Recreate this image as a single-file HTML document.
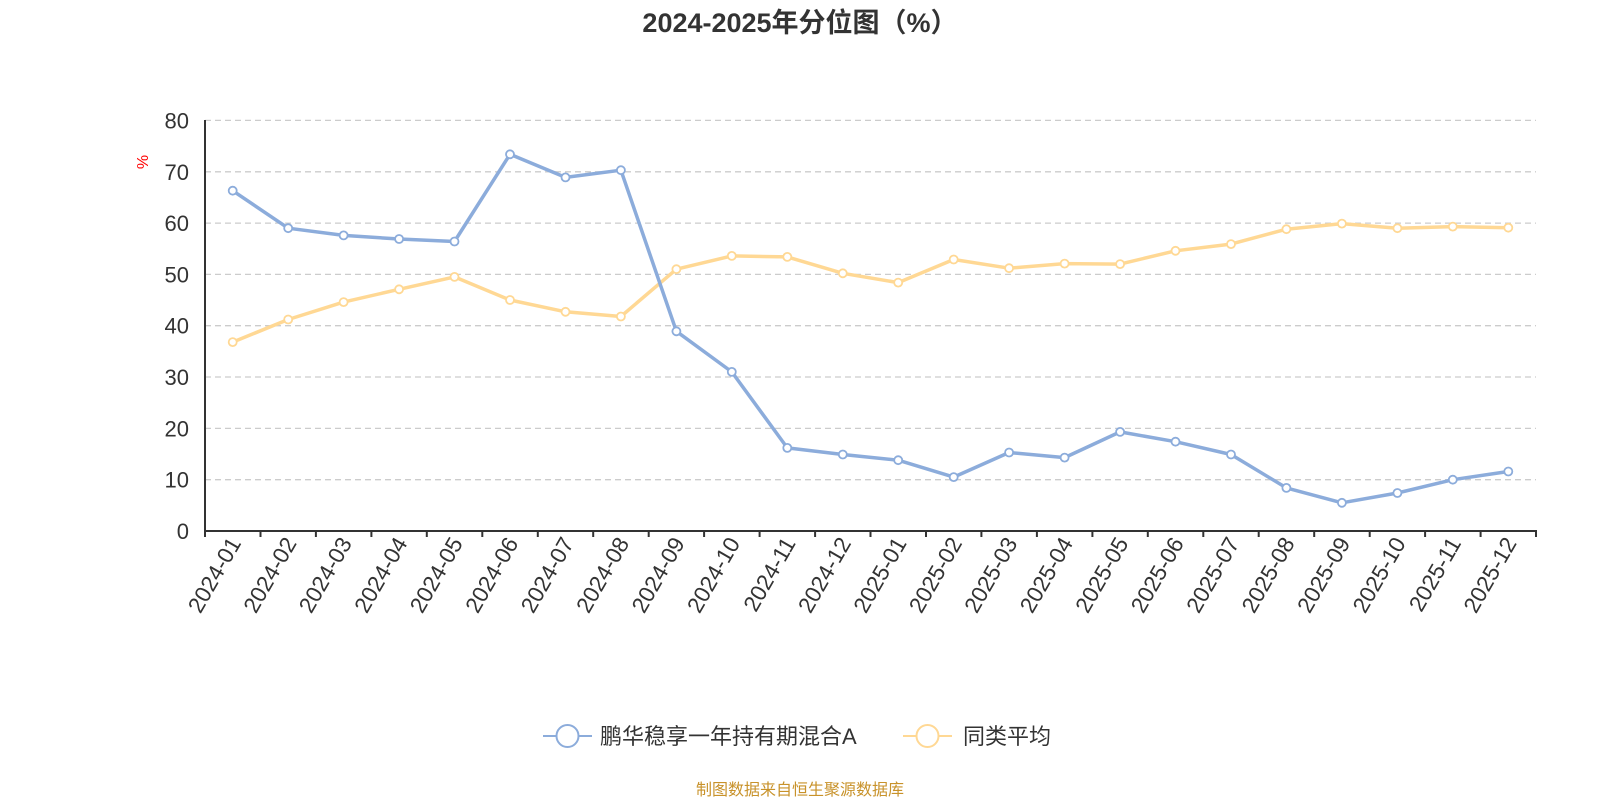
<!DOCTYPE html>
<html><head><meta charset="utf-8"><style>
html,body{margin:0;padding:0;background:#fff;}
svg{display:block;font-family:"Liberation Sans","Noto Sans CJK SC",sans-serif;}
</style></head><body>
<svg width="1600" height="800" viewBox="0 0 1600 800" xmlns="http://www.w3.org/2000/svg">
<text x="800" y="32" text-anchor="middle" font-size="27" font-weight="bold" fill="#333">2024-2025年分位图（%）</text>
<g stroke="#ccc" stroke-width="1.3" stroke-dasharray="6,4">
<line x1="205" x2="1536" y1="479.7" y2="479.7"/><line x1="205" x2="1536" y1="428.4" y2="428.4"/>
<line x1="205" x2="1536" y1="377" y2="377"/><line x1="205" x2="1536" y1="325.7" y2="325.7"/>
<line x1="205" x2="1536" y1="274.4" y2="274.4"/><line x1="205" x2="1536" y1="223.1" y2="223.1"/>
<line x1="205" x2="1536" y1="171.8" y2="171.8"/><line x1="205" x2="1536" y1="120.4" y2="120.4"/>
</g>
<g font-size="22" fill="#333" text-anchor="end">
<text x="189" y="539">0</text><text x="189" y="487.7">10</text><text x="189" y="436.4">20</text>
<text x="189" y="385">30</text><text x="189" y="333.7">40</text><text x="189" y="282.4">50</text>
<text x="189" y="231.1">60</text><text x="189" y="179.8">70</text><text x="189" y="128.4">80</text>
</g>
<text x="0" y="0" transform="translate(148,162) rotate(-90)" text-anchor="middle" font-size="16" fill="red">%</text>
<line x1="205" y1="120" x2="205" y2="531" stroke="#333" stroke-width="2"/>
<line x1="205" y1="531" x2="1537" y2="531" stroke="#333" stroke-width="2"/>
<g stroke="#333" stroke-width="2">
<line x1="205" x2="205" y1="531" y2="537"/><line x1="260.5" x2="260.5" y1="531" y2="537"/><line x1="315.9" x2="315.9" y1="531" y2="537"/><line x1="371.4" x2="371.4" y1="531" y2="537"/><line x1="426.8" x2="426.8" y1="531" y2="537"/><line x1="482.3" x2="482.3" y1="531" y2="537"/><line x1="537.8" x2="537.8" y1="531" y2="537"/><line x1="593.2" x2="593.2" y1="531" y2="537"/><line x1="648.7" x2="648.7" y1="531" y2="537"/><line x1="704.1" x2="704.1" y1="531" y2="537"/><line x1="759.6" x2="759.6" y1="531" y2="537"/><line x1="815.1" x2="815.1" y1="531" y2="537"/><line x1="870.5" x2="870.5" y1="531" y2="537"/><line x1="926" x2="926" y1="531" y2="537"/><line x1="981.4" x2="981.4" y1="531" y2="537"/><line x1="1036.9" x2="1036.9" y1="531" y2="537"/><line x1="1092.4" x2="1092.4" y1="531" y2="537"/><line x1="1147.8" x2="1147.8" y1="531" y2="537"/><line x1="1203.3" x2="1203.3" y1="531" y2="537"/><line x1="1258.7" x2="1258.7" y1="531" y2="537"/><line x1="1314.2" x2="1314.2" y1="531" y2="537"/><line x1="1369.7" x2="1369.7" y1="531" y2="537"/><line x1="1425.1" x2="1425.1" y1="531" y2="537"/><line x1="1480.6" x2="1480.6" y1="531" y2="537"/><line x1="1536" x2="1536" y1="531" y2="537"/>
</g>
<g font-size="22.5" fill="#333" text-anchor="end">
<text transform="translate(241.7,543) rotate(-60)">2024-01</text>
<text transform="translate(297.2,543) rotate(-60)">2024-02</text>
<text transform="translate(352.6,543) rotate(-60)">2024-03</text>
<text transform="translate(408.1,543) rotate(-60)">2024-04</text>
<text transform="translate(463.5,543) rotate(-60)">2024-05</text>
<text transform="translate(519,543) rotate(-60)">2024-06</text>
<text transform="translate(574.5,543) rotate(-60)">2024-07</text>
<text transform="translate(629.9,543) rotate(-60)">2024-08</text>
<text transform="translate(685.4,543) rotate(-60)">2024-09</text>
<text transform="translate(740.8,543) rotate(-60)">2024-10</text>
<text transform="translate(796.3,543) rotate(-60)">2024-11</text>
<text transform="translate(851.8,543) rotate(-60)">2024-12</text>
<text transform="translate(907.2,543) rotate(-60)">2025-01</text>
<text transform="translate(962.7,543) rotate(-60)">2025-02</text>
<text transform="translate(1018.1,543) rotate(-60)">2025-03</text>
<text transform="translate(1073.6,543) rotate(-60)">2025-04</text>
<text transform="translate(1129.1,543) rotate(-60)">2025-05</text>
<text transform="translate(1184.5,543) rotate(-60)">2025-06</text>
<text transform="translate(1240,543) rotate(-60)">2025-07</text>
<text transform="translate(1295.4,543) rotate(-60)">2025-08</text>
<text transform="translate(1350.9,543) rotate(-60)">2025-09</text>
<text transform="translate(1406.4,543) rotate(-60)">2025-10</text>
<text transform="translate(1461.8,543) rotate(-60)">2025-11</text>
<text transform="translate(1517.3,543) rotate(-60)">2025-12</text>
</g>
<polyline fill="none" stroke="#ffd894" stroke-width="3.5" stroke-linejoin="round" points="232.7,342.1 288.2,319.5 343.6,302.1 399.1,289.3 454.5,276.9 510,300 565.5,311.8 620.9,316.5 676.4,269.2 731.8,255.9 787.3,256.9 842.8,273.3 898.2,282.6 953.7,259.5 1009.1,268.2 1064.6,263.6 1120.1,264.1 1175.5,250.8 1231,244.1 1286.4,229.2 1341.9,223.6 1397.4,228.2 1452.8,226.6 1508.3,227.7"/>
<polyline fill="none" stroke="#8cacdb" stroke-width="3.5" stroke-linejoin="round" points="232.7,190.7 288.2,228.2 343.6,235.4 399.1,239 454.5,241.5 510,154.3 565.5,177.4 620.9,170.2 676.4,331.3 731.8,371.9 787.3,447.9 842.8,454.5 898.2,460.2 953.7,477.1 1009.1,452.5 1064.6,457.6 1120.1,431.9 1175.5,441.7 1231,454.5 1286.4,487.9 1341.9,502.8 1397.4,493 1452.8,479.7 1508.3,471.5"/>
<g fill="#fff" stroke="#ffd894" stroke-width="1.8">
<circle cx="232.7" cy="342.1" r="4"/><circle cx="288.2" cy="319.5" r="4"/><circle cx="343.6" cy="302.1" r="4"/><circle cx="399.1" cy="289.3" r="4"/><circle cx="454.5" cy="276.9" r="4"/><circle cx="510" cy="300" r="4"/><circle cx="565.5" cy="311.8" r="4"/><circle cx="620.9" cy="316.5" r="4"/><circle cx="676.4" cy="269.2" r="4"/><circle cx="731.8" cy="255.9" r="4"/><circle cx="787.3" cy="256.9" r="4"/><circle cx="842.8" cy="273.3" r="4"/><circle cx="898.2" cy="282.6" r="4"/><circle cx="953.7" cy="259.5" r="4"/><circle cx="1009.1" cy="268.2" r="4"/><circle cx="1064.6" cy="263.6" r="4"/><circle cx="1120.1" cy="264.1" r="4"/><circle cx="1175.5" cy="250.8" r="4"/><circle cx="1231" cy="244.1" r="4"/><circle cx="1286.4" cy="229.2" r="4"/><circle cx="1341.9" cy="223.6" r="4"/><circle cx="1397.4" cy="228.2" r="4"/><circle cx="1452.8" cy="226.6" r="4"/><circle cx="1508.3" cy="227.7" r="4"/>
</g>
<g fill="#fff" stroke="#8cacdb" stroke-width="1.8">
<circle cx="232.7" cy="190.7" r="4"/><circle cx="288.2" cy="228.2" r="4"/><circle cx="343.6" cy="235.4" r="4"/><circle cx="399.1" cy="239" r="4"/><circle cx="454.5" cy="241.5" r="4"/><circle cx="510" cy="154.3" r="4"/><circle cx="565.5" cy="177.4" r="4"/><circle cx="620.9" cy="170.2" r="4"/><circle cx="676.4" cy="331.3" r="4"/><circle cx="731.8" cy="371.9" r="4"/><circle cx="787.3" cy="447.9" r="4"/><circle cx="842.8" cy="454.5" r="4"/><circle cx="898.2" cy="460.2" r="4"/><circle cx="953.7" cy="477.1" r="4"/><circle cx="1009.1" cy="452.5" r="4"/><circle cx="1064.6" cy="457.6" r="4"/><circle cx="1120.1" cy="431.9" r="4"/><circle cx="1175.5" cy="441.7" r="4"/><circle cx="1231" cy="454.5" r="4"/><circle cx="1286.4" cy="487.9" r="4"/><circle cx="1341.9" cy="502.8" r="4"/><circle cx="1397.4" cy="493" r="4"/><circle cx="1452.8" cy="479.7" r="4"/><circle cx="1508.3" cy="471.5" r="4"/>
</g>
<line x1="543" x2="592" y1="736" y2="736" stroke="#8cacdb" stroke-width="2"/>
<circle cx="567.5" cy="736" r="11" fill="#fff" stroke="#8cacdb" stroke-width="2"/>
<text x="600" y="744" font-size="22" fill="#333">鹏华稳享一年持有期混合A</text>
<line x1="903" x2="952" y1="736" y2="736" stroke="#ffd894" stroke-width="2"/>
<circle cx="927.5" cy="736" r="11" fill="#fff" stroke="#ffd894" stroke-width="2"/>
<text x="963" y="744" font-size="22" fill="#333">同类平均</text>
<text x="800" y="795" text-anchor="middle" font-size="16" fill="#c8922a">制图数据来自恒生聚源数据库</text>
</svg>
</body></html>
